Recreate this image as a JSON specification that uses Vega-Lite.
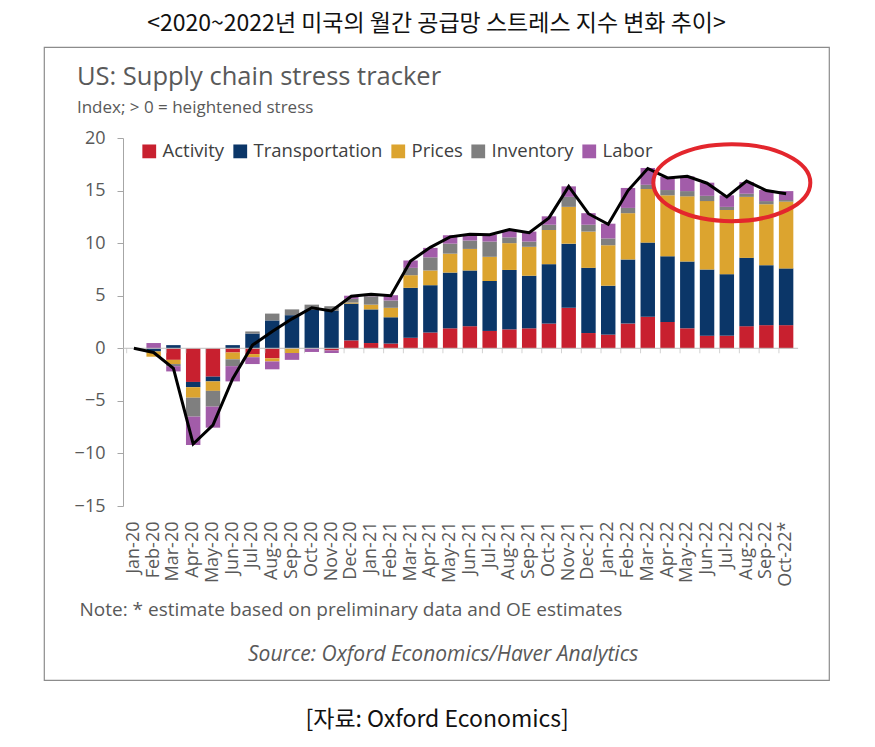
{
  "$schema": "https://vega.github.io/schema/vega-lite/v6.json",
  "width": 785,
  "height": 633,
  "autosize": {"type": "none"},
  "padding": {"left": 44, "top": 47, "right": 46, "bottom": 67},
  "background": "white",
  "config": {
    "font": "Open Sans",
    "view": {"stroke": "#8c8c8c", "strokeWidth": 1.2}
  },
  "title": {
    "text": "<2020~2022년 미국의 월간 공급망 스트레스 지수 변화 추이>",
    "anchor": "middle",
    "frame": "group",
    "offset": 11,
    "font": "Noto Sans CJK KR",
    "fontSize": 23,
    "fontWeight": "normal",
    "color": "#111111"
  },
  "data": {
    "values": [
      {"m": "Jan-20", "Activity": 0, "Transportation": 0, "Prices": 0, "Inventory": 0, "Labor": 0, "Total": 0},
      {"m": "Feb-20", "Activity": 0, "Transportation": -0.3, "Prices": -0.5, "Inventory": 0, "Labor": 0.5, "Total": -0.4},
      {"m": "Mar-20", "Activity": -1.1, "Transportation": 0.3, "Prices": -0.4, "Inventory": -0.2, "Labor": -0.5, "Total": -1.9},
      {"m": "Apr-20", "Activity": -3.2, "Transportation": -0.5, "Prices": -1.0, "Inventory": -1.8, "Labor": -2.7, "Total": -9.1},
      {"m": "May-20", "Activity": -2.7, "Transportation": -0.45, "Prices": -0.9, "Inventory": -1.5, "Labor": -2.0, "Total": -7.3},
      {"m": "Jun-20", "Activity": -0.4, "Transportation": 0.3, "Prices": -0.65, "Inventory": -0.65, "Labor": -1.45, "Total": -2.9},
      {"m": "Jul-20", "Activity": -0.55, "Transportation": 1.4, "Prices": -0.3, "Inventory": 0.2, "Labor": -0.65, "Total": 0.3},
      {"m": "Aug-20", "Activity": -0.95, "Transportation": 2.65, "Prices": -0.3, "Inventory": 0.65, "Labor": -0.75, "Total": 1.6},
      {"m": "Sep-20", "Activity": 0, "Transportation": 3.15, "Prices": -0.45, "Inventory": 0.55, "Labor": -0.65, "Total": 2.8},
      {"m": "Oct-20", "Activity": 0, "Transportation": 3.7, "Prices": 0, "Inventory": 0.45, "Labor": -0.35, "Total": 3.85},
      {"m": "Nov-20", "Activity": -0.2, "Transportation": 3.55, "Prices": 0, "Inventory": 0.45, "Labor": -0.25, "Total": 3.55},
      {"m": "Dec-20", "Activity": 0.75, "Transportation": 3.5, "Prices": 0.1, "Inventory": 0.35, "Labor": 0.3, "Total": 4.95},
      {"m": "Jan-21", "Activity": 0.5, "Transportation": 3.2, "Prices": 0.45, "Inventory": 0.8, "Labor": 0.1, "Total": 5.15},
      {"m": "Feb-21", "Activity": 0.45, "Transportation": 2.5, "Prices": 0.9, "Inventory": 0.7, "Labor": 0.5, "Total": 5.0},
      {"m": "Mar-21", "Activity": 1.0, "Transportation": 4.75, "Prices": 1.2, "Inventory": 0.7, "Labor": 0.7, "Total": 8.3},
      {"m": "Apr-21", "Activity": 1.5, "Transportation": 4.5, "Prices": 1.4, "Inventory": 1.25, "Labor": 0.9, "Total": 9.6},
      {"m": "May-21", "Activity": 1.9, "Transportation": 5.3, "Prices": 1.8, "Inventory": 0.95, "Labor": 0.8, "Total": 10.6},
      {"m": "Jun-21", "Activity": 2.1, "Transportation": 5.3, "Prices": 2.05, "Inventory": 0.8, "Labor": 0.55, "Total": 10.85},
      {"m": "Jul-21", "Activity": 1.65, "Transportation": 4.75, "Prices": 2.3, "Inventory": 1.45, "Labor": 0.65, "Total": 10.8},
      {"m": "Aug-21", "Activity": 1.8, "Transportation": 5.65, "Prices": 2.55, "Inventory": 0.55, "Labor": 0.65, "Total": 11.3},
      {"m": "Sep-21", "Activity": 1.9, "Transportation": 5.0, "Prices": 2.75, "Inventory": 0.5, "Labor": 0.95, "Total": 11.0},
      {"m": "Oct-21", "Activity": 2.35, "Transportation": 5.65, "Prices": 3.25, "Inventory": 0.5, "Labor": 0.8, "Total": 12.4},
      {"m": "Nov-21", "Activity": 3.85, "Transportation": 6.1, "Prices": 3.5, "Inventory": 0.95, "Labor": 1.0, "Total": 15.4},
      {"m": "Dec-21", "Activity": 1.45, "Transportation": 6.2, "Prices": 3.45, "Inventory": 0.65, "Labor": 1.1, "Total": 12.8},
      {"m": "Jan-22", "Activity": 1.3, "Transportation": 4.65, "Prices": 3.85, "Inventory": 0.65, "Labor": 1.4, "Total": 11.8},
      {"m": "Feb-22", "Activity": 2.35, "Transportation": 6.1, "Prices": 4.4, "Inventory": 0.5, "Labor": 1.9, "Total": 15.0},
      {"m": "Mar-22", "Activity": 3.0, "Transportation": 7.05, "Prices": 5.1, "Inventory": 0.4, "Labor": 1.6, "Total": 17.1},
      {"m": "Apr-22", "Activity": 2.5, "Transportation": 6.25, "Prices": 5.8, "Inventory": 0.5, "Labor": 1.25, "Total": 16.2},
      {"m": "May-22", "Activity": 1.9, "Transportation": 6.35, "Prices": 6.2, "Inventory": 0.5, "Labor": 1.4, "Total": 16.35},
      {"m": "Jun-22", "Activity": 1.2, "Transportation": 6.3, "Prices": 6.5, "Inventory": 0.5, "Labor": 1.25, "Total": 15.7},
      {"m": "Jul-22", "Activity": 1.2, "Transportation": 5.85, "Prices": 6.1, "Inventory": 0.3, "Labor": 1.1, "Total": 14.4},
      {"m": "Aug-22", "Activity": 2.1, "Transportation": 6.5, "Prices": 5.8, "Inventory": 0.3, "Labor": 1.1, "Total": 15.9},
      {"m": "Sep-22", "Activity": 2.2, "Transportation": 5.7, "Prices": 5.8, "Inventory": 0.3, "Labor": 1.05, "Total": 15.0},
      {"m": "Oct-22*", "Activity": 2.2, "Transportation": 5.4, "Prices": 6.35, "Inventory": 0.15, "Labor": 0.85, "Total": 14.7}
    ]
  },
  "layer": [
    {
      "transform": [
        {"fold": ["Activity", "Transportation", "Prices", "Inventory", "Labor"], "as": ["c", "v"]},
        {"window": [{"op": "row_number", "as": "k"}], "groupby": ["m"]}
      ],
      "mark": {"type": "bar"},
      "encoding": {
        "x": {
          "field": "m",
          "type": "nominal",
          "sort": null,
          "scale": {
            "domain": ["Jan-20","Feb-20","Mar-20","Apr-20","May-20","Jun-20","Jul-20","Aug-20","Sep-20","Oct-20","Nov-20","Dec-20","Jan-21","Feb-21","Mar-21","Apr-21","May-21","Jun-21","Jul-21","Aug-21","Sep-21","Oct-21","Nov-21","Dec-21","Jan-22","Feb-22","Mar-22","Apr-22","May-22","Jun-22","Jul-22","Aug-22","Sep-22","Oct-22*"],
            "range": [80, 752],
            "paddingInner": 0.27,
            "paddingOuter": 0.135
          },
          "axis": {
            "orient": "bottom",
            "offset": -163,
            "domain": false,
            "ticks": false,
            "labelAngle": -90,
            "labelPadding": 4,
            "labelFontSize": 18,
            "labelColor": "#595959",
            "title": "Note: * estimate based on preliminary data and OE estimates",
            "titleAnchor": "start",
            "titleAlign": "left",
            "titleX": 35,
            "titleY": 98,
            "titleBaseline": "alphabetic",
            "titleFontSize": 19,
            "titleFontWeight": "normal",
            "titleColor": "#595959"
          }
        },
        "y": {
          "field": "v",
          "type": "quantitative",
          "stack": "zero",
          "scale": {"domain": [-15, 20], "range": [459, 91], "nice": false, "zero": false},
          "axis": {
            "offset": -79,
            "values": [-15, -10, -5, 0, 5, 10, 15, 20],
            "grid": false,
            "domainColor": "#a6a6a6",
            "tickColor": "#a6a6a6",
            "tickSize": 6,
            "labelPadding": 12,
            "labelFontSize": 18,
            "labelColor": "#595959",
            "title": null
          }
        },
        "order": {"field": "k", "type": "quantitative", "sort": "ascending"},
        "color": {
          "field": "c",
          "type": "nominal",
          "scale": {
            "domain": ["Activity", "Transportation", "Prices", "Inventory", "Labor"],
            "range": ["#c8202f", "#0b3668", "#dca42f", "#7f7f7f", "#a25ca9"]
          },
          "legend": {
            "orient": "none",
            "legendX": 96,
            "legendY": 95,
            "direction": "horizontal",
            "title": null,
            "symbolType": "square",
            "symbolSize": 190,
            "symbolStrokeWidth": 0,
            "labelFontSize": 18.5,
            "labelColor": "#404040",
            "labelOffset": 4,
            "columnPadding": 6
          }
        }
      }
    },
    {
      "data": {"values": [{}]},
      "mark": {"type": "rule", "color": "#bfbfbf", "strokeWidth": 1, "xOffset": -11, "x2Offset": 12},
      "encoding": {
        "x": {"datum": "Jan-20"},
        "x2": {"datum": "Oct-22*"},
        "y": {"datum": 0}
      }
    },
    {
      "mark": {"type": "tick", "orient": "vertical", "color": "#bfbfbf", "size": 5, "thickness": 1, "yOffset": 2.5},
      "encoding": {
        "x": {"field": "m", "type": "nominal", "bandPosition": 0},
        "y": {"datum": 0}
      }
    },
    {
      "mark": {"type": "line", "color": "#000000", "strokeWidth": 3},
      "encoding": {
        "x": {"field": "m", "type": "nominal", "sort": null},
        "y": {"field": "Total", "type": "quantitative"}
      }
    },
    {
      "data": {"values": [{}]},
      "mark": {"type": "text", "align": "left", "baseline": "alphabetic", "fontSize": 25.5, "color": "#595959", "xOffset": -57},
      "encoding": {
        "x": {"datum": "Jan-20"},
        "y": {"datum": 25.0},
        "text": {"value": "US: Supply chain stress tracker"}
      }
    },
    {
      "data": {"values": [{}]},
      "mark": {"type": "text", "align": "left", "baseline": "alphabetic", "fontSize": 17, "color": "#595959", "xOffset": -57},
      "encoding": {
        "x": {"datum": "Jan-20"},
        "y": {"datum": 22.35},
        "text": {"value": "Index; > 0 = heightened stress"}
      }
    },
    {
      "data": {"values": [{}]},
      "mark": {"type": "text", "align": "center", "baseline": "alphabetic", "fontSize": 21, "fontStyle": "italic", "color": "#595959", "xOffset": -7},
      "encoding": {
        "x": {"datum": "May-21"},
        "y": {"datum": -29.7},
        "text": {"value": "Source: Oxford Economics/Haver Analytics"}
      }
    },
    {
      "data": {"values": [{}]},
      "mark": {"type": "text", "align": "center", "baseline": "alphabetic", "fontSize": 23, "font": "Noto Sans CJK KR", "color": "#111111", "xOffset": -13},
      "encoding": {
        "x": {"datum": "May-21"},
        "y": {"datum": -36.0},
        "text": {"value": "[자료: Oxford Economics]"}
      }
    },
    {
      "data": {"values": [{}]},
      "mark": {
        "type": "point",
        "shape": "M -1 0 A 1 0.49 0 1 1 1 0 A 1 0.49 0 1 1 -1 0 Z",
        "filled": false,
        "stroke": "#e3262d",
        "strokeWidth": 4,
        "opacity": 1,
        "size": 24649,
        "xOffset": 5
      },
      "encoding": {
        "x": {"datum": "Jul-22"},
        "y": {"datum": 15.75}
      }
    }
  ]
}
